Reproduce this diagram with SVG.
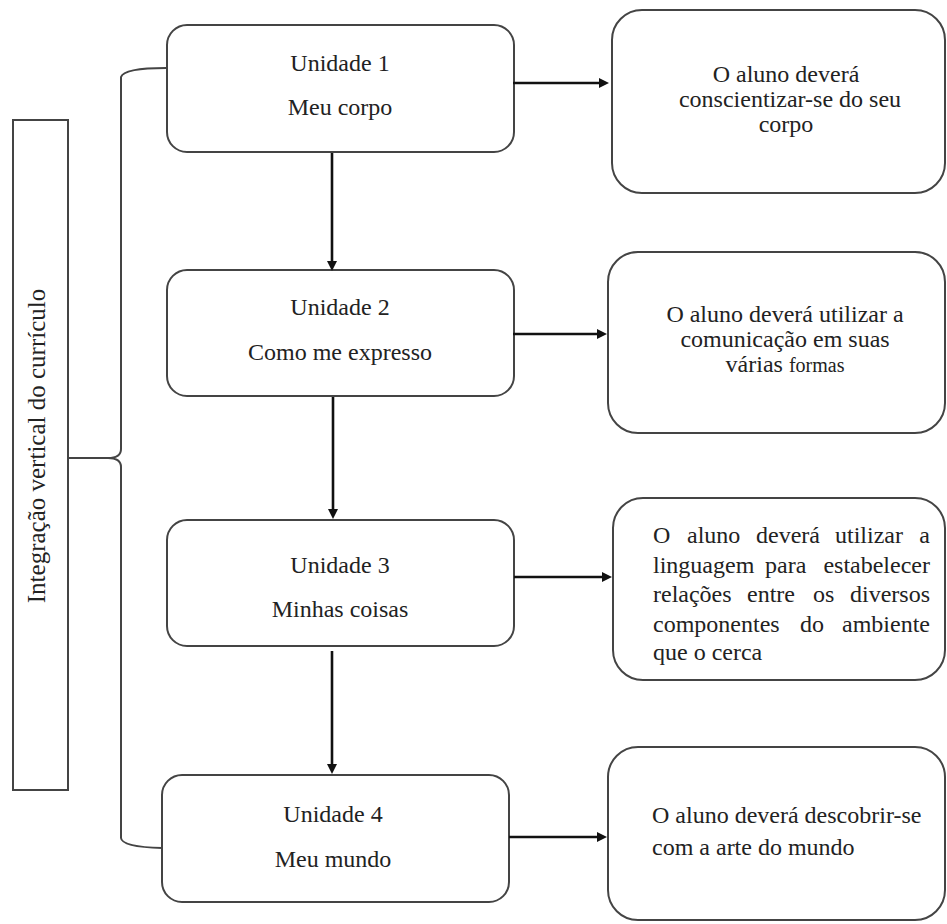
<svg xmlns="http://www.w3.org/2000/svg" width="947" height="924" viewBox="0 0 947 924">
  <style>
    .box { fill: #fff; stroke: #444; stroke-width: 2; }
    .conn { stroke: #111; stroke-width: 2.6; fill: none; }
    .head { fill: #111; }
    .brace { stroke: #444; stroke-width: 2; fill: none; }
  </style>
  <rect width="947" height="924" fill="#fff"/>

  <g id="curriculo">
    <rect class="box" x="13" y="120" width="55" height="670"/>
    <text font-family="Liberation Serif" font-size="25" fill="#222" text-anchor="middle" transform="translate(45,446) rotate(-90)">Integração vertical do currículo</text>
  </g>

  <g id="unidade1">
    <rect class="box" x="167" y="25" width="347" height="127" rx="20"/>
    <text font-family="Liberation Serif" font-size="24" fill="#222" text-anchor="middle" x="340" y="71">Unidade 1</text>
    <text font-family="Liberation Serif" font-size="24" fill="#222" text-anchor="middle" x="340" y="115">Meu corpo</text>
  </g>
  <g id="unidade2">
    <rect class="box" x="167" y="270" width="347" height="126" rx="20"/>
    <text font-family="Liberation Serif" font-size="24" fill="#222" text-anchor="middle" x="340" y="315">Unidade 2</text>
    <text font-family="Liberation Serif" font-size="24" fill="#222" text-anchor="middle" x="340" y="360">Como me expresso</text>
  </g>
  <g id="unidade3">
    <rect class="box" x="167" y="520" width="347" height="126" rx="20"/>
    <text font-family="Liberation Serif" font-size="24" fill="#222" text-anchor="middle" x="340" y="573">Unidade 3</text>
    <text font-family="Liberation Serif" font-size="24" fill="#222" text-anchor="middle" x="340" y="617">Minhas coisas</text>
  </g>
  <g id="unidade4">
    <rect class="box" x="162" y="775" width="347" height="127" rx="20"/>
    <text font-family="Liberation Serif" font-size="24" fill="#222" text-anchor="middle" x="333" y="822">Unidade 4</text>
    <text font-family="Liberation Serif" font-size="24" fill="#222" text-anchor="middle" x="333" y="867">Meu mundo</text>
  </g>

  <g id="objetivo1">
    <rect class="box" x="612" y="10" width="333" height="183" rx="30"/>
    <text font-family="Liberation Serif" font-size="24" fill="#222" text-anchor="middle" x="786" y="82">O aluno deverá</text>
    <text font-family="Liberation Serif" font-size="24" fill="#222" text-anchor="middle" x="790" y="107">conscientizar-se do seu</text>
    <text font-family="Liberation Serif" font-size="24" fill="#222" text-anchor="middle" x="786" y="132">corpo</text>
  </g>
  <g id="objetivo2">
    <rect class="box" x="608" y="252" width="337" height="181" rx="30"/>
    <text font-family="Liberation Serif" font-size="24" fill="#222" text-anchor="middle" x="785" y="322">O aluno deverá utilizar a</text>
    <text font-family="Liberation Serif" font-size="24" fill="#222" text-anchor="middle" x="785" y="347">comunicação em suas</text>
    <text font-family="Liberation Serif" font-size="24" fill="#222" text-anchor="middle" x="785" y="372">várias <tspan font-size="20">formas</tspan></text>
  </g>
  <g id="objetivo3">
    <rect class="box" x="613" y="498" width="332" height="182" rx="30"/>
    <text font-family="Liberation Serif" font-size="24" fill="#222" y="543"><tspan x="653">O</tspan><tspan x="687">aluno</tspan><tspan x="756">deverá</tspan><tspan x="835">utilizar</tspan><tspan x="930" text-anchor="end">a</tspan></text>
    <text font-family="Liberation Serif" font-size="24" fill="#222" y="573"><tspan x="653">linguagem</tspan><tspan x="765">para</tspan><tspan x="930" text-anchor="end">estabelecer</tspan></text>
    <text font-family="Liberation Serif" font-size="24" fill="#222" y="602"><tspan x="653">relações</tspan><tspan x="747">entre</tspan><tspan x="813">os</tspan><tspan x="930" text-anchor="end">diversos</tspan></text>
    <text font-family="Liberation Serif" font-size="24" fill="#222" y="632"><tspan x="653">componentes</tspan><tspan x="800">do</tspan><tspan x="930" text-anchor="end">ambiente</tspan></text>
    <text font-family="Liberation Serif" font-size="24" fill="#222" x="653" y="660">que o cerca</text>
  </g>
  <g id="objetivo4">
    <rect class="box" x="608" y="747" width="337" height="173" rx="30"/>
    <text font-family="Liberation Serif" font-size="24" fill="#222" x="652" y="823">O aluno deverá descobrir-se</text>
    <text font-family="Liberation Serif" font-size="24" fill="#222" x="652" y="855">com a arte do mundo</text>
  </g>

  <g id="conectores">
    <path class="brace" d="M166,68 Q124,68 121,77 L121,449 Q121,458 108,458 L68,458 M108,458 Q121,458 121,467 L121,838 Q122,847 162,848"/>
    <line class="conn" x1="332" y1="153" x2="332" y2="262"/>
    <polygon class="head" points="327,261 337,261 332,271"/>
    <line class="conn" x1="333" y1="397" x2="333" y2="510"/>
    <polygon class="head" points="328,509 338,509 333,519"/>
    <line class="conn" x1="332" y1="651" x2="332" y2="765"/>
    <polygon class="head" points="327,764 337,764 332,774"/>
    <line class="conn" x1="513" y1="83" x2="600" y2="83"/>
    <polygon class="head" points="599,78 599,88 609,83"/>
    <line class="conn" x1="513" y1="334" x2="598" y2="334"/>
    <polygon class="head" points="597,329 597,339 607,334"/>
    <line class="conn" x1="514" y1="577" x2="603" y2="577"/>
    <polygon class="head" points="602,572 602,582 612,577"/>
    <line class="conn" x1="509" y1="837" x2="598" y2="837"/>
    <polygon class="head" points="597,832 597,842 607,837"/>
  </g>
</svg>
